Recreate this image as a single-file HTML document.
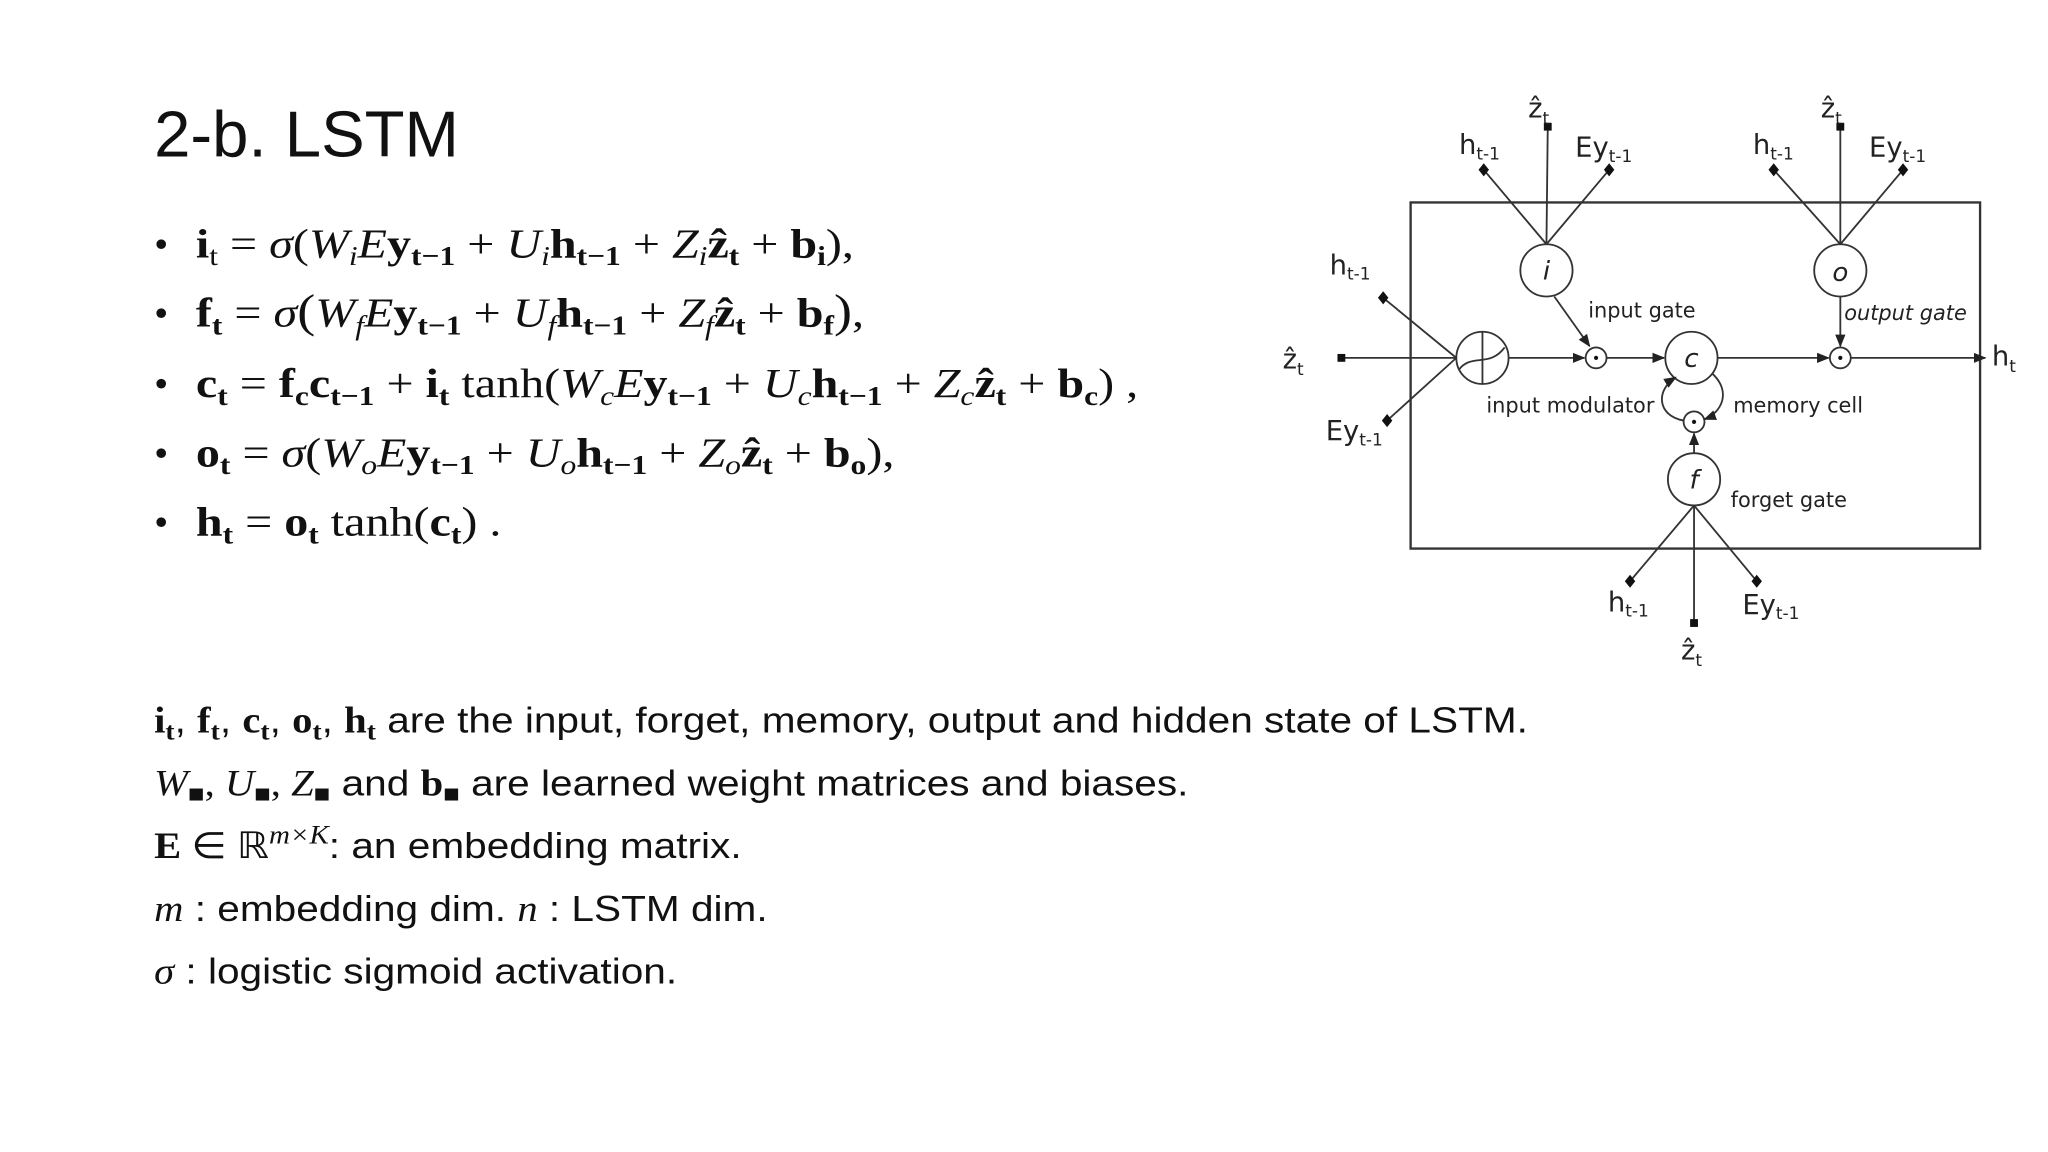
<!DOCTYPE html>
<html><head><meta charset="utf-8"><style>
html,body{margin:0;padding:0;background:#fff;}
svg{display:block}
.t{font-family:"Liberation Sans",sans-serif;fill:#111}
.m{font-family:"Liberation Serif",serif;fill:#111}
.d{font-family:"DejaVu Sans","Liberation Sans",sans-serif;fill:#222}
</style></head><body>
<svg width="2048" height="1152" viewBox="0 0 1568 882" xmlns="http://www.w3.org/2000/svg">
<defs>
<marker id="ar" viewBox="0 0 10 10" refX="9" refY="5" markerWidth="7" markerHeight="7" orient="auto"><path d="M0,1 L10,5 L0,9 z" fill="#222"/></marker>
</defs>
<rect width="1568" height="882" fill="#fff"/>
<text class="t" x="118" y="120" font-size="50">2-b. LSTM</text>

<g class="m" font-size="31">
<text x="118" y="197">•</text>
<text x="118" y="250">•</text>
<text x="118" y="304">•</text>
<text x="118" y="357">•</text>
<text x="118" y="410">•</text>
</g>
<g class="m" font-size="32" transform="translate(150,0) scale(1.15,1) translate(-150,0)">
<text x="150" y="197"><tspan font-weight="bold">i</tspan><tspan font-size="21" dy="6">t</tspan><tspan dy="-6"> = </tspan><tspan font-style="italic">σ</tspan>(<tspan font-style="italic">W</tspan><tspan font-style="italic" font-size="21" dy="6">i</tspan><tspan dy="-6" font-style="italic">E</tspan><tspan font-weight="bold">y</tspan><tspan font-weight="bold" font-size="21" dy="6">t−1</tspan><tspan dy="-6"> + </tspan><tspan font-style="italic">U</tspan><tspan font-style="italic" font-size="21" dy="6">i</tspan><tspan dy="-6" font-weight="bold">h</tspan><tspan font-weight="bold" font-size="21" dy="6">t−1</tspan><tspan dy="-6"> + </tspan><tspan font-style="italic">Z</tspan><tspan font-style="italic" font-size="21" dy="6">i</tspan><tspan dy="-6" font-weight="bold">ẑ</tspan><tspan font-weight="bold" font-size="21" dy="6">t</tspan><tspan dy="-6"> + </tspan><tspan font-weight="bold">b</tspan><tspan font-weight="bold" font-size="21" dy="6">i</tspan><tspan dy="-6">),</tspan></text>
<text x="150" y="250"><tspan font-weight="bold">f</tspan><tspan font-size="21" dy="6" font-weight="bold">t</tspan><tspan dy="-6"> = </tspan><tspan font-style="italic">σ</tspan><tspan font-size="36">(</tspan><tspan font-style="italic">W</tspan><tspan font-style="italic" font-size="21" dy="6">f</tspan><tspan dy="-6" font-style="italic">E</tspan><tspan font-weight="bold">y</tspan><tspan font-weight="bold" font-size="21" dy="6">t−1</tspan><tspan dy="-6"> + </tspan><tspan font-style="italic">U</tspan><tspan font-style="italic" font-size="21" dy="6">f</tspan><tspan dy="-6" font-weight="bold">h</tspan><tspan font-weight="bold" font-size="21" dy="6">t−1</tspan><tspan dy="-6"> + </tspan><tspan font-style="italic">Z</tspan><tspan font-style="italic" font-size="21" dy="6">f</tspan><tspan dy="-6" font-weight="bold">ẑ</tspan><tspan font-weight="bold" font-size="21" dy="6">t</tspan><tspan dy="-6"> + </tspan><tspan font-weight="bold">b</tspan><tspan font-weight="bold" font-size="21" dy="6">f</tspan><tspan dy="-6" font-size="36">)</tspan><tspan>,</tspan></text>
<text x="150" y="304"><tspan font-weight="bold">c</tspan><tspan font-size="21" dy="6" font-weight="bold">t</tspan><tspan dy="-6"> = </tspan><tspan font-weight="bold">f</tspan><tspan font-weight="bold" font-size="21" dy="6">c</tspan><tspan dy="-6" font-weight="bold">c</tspan><tspan font-weight="bold" font-size="21" dy="6">t−1</tspan><tspan dy="-6"> + </tspan><tspan font-weight="bold">i</tspan><tspan font-weight="bold" font-size="21" dy="6">t</tspan><tspan dy="-6"> tanh(</tspan><tspan font-style="italic">W</tspan><tspan font-style="italic" font-size="21" dy="6">c</tspan><tspan dy="-6" font-style="italic">E</tspan><tspan font-weight="bold">y</tspan><tspan font-weight="bold" font-size="21" dy="6">t−1</tspan><tspan dy="-6"> + </tspan><tspan font-style="italic">U</tspan><tspan font-style="italic" font-size="21" dy="6">c</tspan><tspan dy="-6" font-weight="bold">h</tspan><tspan font-weight="bold" font-size="21" dy="6">t−1</tspan><tspan dy="-6"> + </tspan><tspan font-style="italic">Z</tspan><tspan font-style="italic" font-size="21" dy="6">c</tspan><tspan dy="-6" font-weight="bold">ẑ</tspan><tspan font-weight="bold" font-size="21" dy="6">t</tspan><tspan dy="-6"> + </tspan><tspan font-weight="bold">b</tspan><tspan font-weight="bold" font-size="21" dy="6">c</tspan><tspan dy="-6">) ,</tspan></text>
<text x="150" y="357"><tspan font-weight="bold">o</tspan><tspan font-size="21" dy="6" font-weight="bold">t</tspan><tspan dy="-6"> = </tspan><tspan font-style="italic">σ</tspan>(<tspan font-style="italic">W</tspan><tspan font-style="italic" font-size="21" dy="6">o</tspan><tspan dy="-6" font-style="italic">E</tspan><tspan font-weight="bold">y</tspan><tspan font-weight="bold" font-size="21" dy="6">t−1</tspan><tspan dy="-6"> + </tspan><tspan font-style="italic">U</tspan><tspan font-style="italic" font-size="21" dy="6">o</tspan><tspan dy="-6" font-weight="bold">h</tspan><tspan font-weight="bold" font-size="21" dy="6">t−1</tspan><tspan dy="-6"> + </tspan><tspan font-style="italic">Z</tspan><tspan font-style="italic" font-size="21" dy="6">o</tspan><tspan dy="-6" font-weight="bold">ẑ</tspan><tspan font-weight="bold" font-size="21" dy="6">t</tspan><tspan dy="-6"> + </tspan><tspan font-weight="bold">b</tspan><tspan font-weight="bold" font-size="21" dy="6">o</tspan><tspan dy="-6">),</tspan></text>
<text x="150" y="410"><tspan font-weight="bold">h</tspan><tspan font-size="21" dy="6" font-weight="bold">t</tspan><tspan dy="-6"> = </tspan><tspan font-weight="bold">o</tspan><tspan font-weight="bold" font-size="21" dy="6">t</tspan><tspan dy="-6"> tanh(</tspan><tspan font-weight="bold">c</tspan><tspan font-weight="bold" font-size="21" dy="6">t</tspan><tspan dy="-6">) .</tspan></text>
</g>

<g font-size="28" transform="translate(118,0) scale(1.11,1) translate(-118,0)">
<text x="118" y="561"><tspan class="m" font-weight="bold">i</tspan><tspan class="m" font-weight="bold" font-size="19" dy="5">t</tspan><tspan class="t" dy="-5">, </tspan><tspan class="m" font-weight="bold">f</tspan><tspan class="m" font-weight="bold" font-size="19" dy="5">t</tspan><tspan class="t" dy="-5">, </tspan><tspan class="m" font-weight="bold">c</tspan><tspan class="m" font-weight="bold" font-size="19" dy="5">t</tspan><tspan class="t" dy="-5">, </tspan><tspan class="m" font-weight="bold">o</tspan><tspan class="m" font-weight="bold" font-size="19" dy="5">t</tspan><tspan class="t" dy="-5">, </tspan><tspan class="m" font-weight="bold">h</tspan><tspan class="m" font-weight="bold" font-size="19" dy="5">t</tspan><tspan class="t" dy="-5"> are the input, forget, memory, output and hidden state of LSTM.</tspan></text>
<text x="118" y="609"><tspan class="m" font-style="italic">W</tspan><tspan class="m" font-size="19" dy="5">■</tspan><tspan class="m" dy="-5">, </tspan><tspan class="m" font-style="italic">U</tspan><tspan class="m" font-size="19" dy="5">■</tspan><tspan class="m" dy="-5">, </tspan><tspan class="m" font-style="italic">Z</tspan><tspan class="m" font-size="19" dy="5">■</tspan><tspan class="t" dy="-5"> and </tspan><tspan class="m" font-weight="bold">b</tspan><tspan class="m" font-size="19" dy="5">■</tspan><tspan class="t" dy="-5"> are learned weight matrices and biases.</tspan></text>
<text x="118" y="657"><tspan class="m" font-weight="bold">E</tspan><tspan class="m"> ∈ ℝ</tspan><tspan class="m" font-style="italic" font-size="20" dy="-11">m×K</tspan><tspan class="t" dy="11">: an embedding matrix.</tspan></text>
<text x="118" y="705"><tspan class="m" font-style="italic">m</tspan><tspan class="t"> : embedding dim. </tspan><tspan class="m" font-style="italic">n</tspan><tspan class="t"> : LSTM dim.</tspan></text>
<text x="118" y="753"><tspan class="m" font-style="italic">σ</tspan><tspan class="t"> : logistic sigmoid activation.</tspan></text>
</g>

<!-- diagram -->
<g stroke="#333" stroke-width="1.4" fill="none">
<rect x="1080" y="155" width="436" height="265" stroke-width="1.8"/>
<line x1="1027" y1="274" x2="1115" y2="274"/>
<line x1="1155" y1="274" x2="1213" y2="274" marker-end="url(#ar)"/>
<line x1="1230" y1="274" x2="1274" y2="274" marker-end="url(#ar)"/>
<line x1="1315" y1="274" x2="1400" y2="274" marker-end="url(#ar)"/>
<line x1="1417" y1="274" x2="1520" y2="274" marker-end="url(#ar)"/>
<circle cx="1135" cy="274" r="20"/>
<line x1="1135" y1="254" x2="1135" y2="294"/>
<path d="M1117,283 C1127,270 1140,282 1152,266"/>
<circle cx="1222" cy="274" r="8"/>
<circle cx="1295" cy="274" r="20"/>
<circle cx="1409" cy="274" r="8"/>
<circle cx="1184" cy="207" r="20"/>
<circle cx="1409" cy="207" r="20"/>
<circle cx="1297" cy="367" r="20"/>
<circle cx="1297" cy="323" r="8"/>
<line x1="1136" y1="130" x2="1184" y2="187"/>
<line x1="1185" y1="97" x2="1184" y2="187"/>
<line x1="1232" y1="130" x2="1184" y2="187"/>
<line x1="1358" y1="130" x2="1409" y2="187"/>
<line x1="1409" y1="97" x2="1409" y2="187"/>
<line x1="1457" y1="130" x2="1409" y2="187"/>
<line x1="1059" y1="228" x2="1115" y2="274"/>
<line x1="1062" y1="322" x2="1115" y2="274"/>
<line x1="1248" y1="445" x2="1297" y2="387"/>
<line x1="1297" y1="477" x2="1297" y2="387"/>
<line x1="1345" y1="445" x2="1297" y2="387"/>
<line x1="1190" y1="227" x2="1217" y2="265" marker-end="url(#ar)"/>
<line x1="1409" y1="227" x2="1409" y2="265" marker-end="url(#ar)"/>
<line x1="1297" y1="347" x2="1297" y2="332" marker-end="url(#ar)"/>
<path d="M1289,322 C1268,318 1268,298 1283,289" marker-end="url(#ar)"/>
<path d="M1311,286 C1326,300 1318,316 1305,321" marker-end="url(#ar)"/>
</g>
<g fill="#111">
<rect x="1024" y="271" width="6" height="6"/>
<rect x="1182" y="94" width="6" height="6"/>
<rect x="1406" y="94" width="6" height="6"/>
<rect x="1294" y="474" width="6" height="6"/>
<path d="M1136,125 l4,5 -4,5 -4,-5z"/>
<path d="M1232,125 l4,5 -4,5 -4,-5z"/>
<path d="M1358,125 l4,5 -4,5 -4,-5z"/>
<path d="M1457,125 l4,5 -4,5 -4,-5z"/>
<path d="M1059,223 l4,5 -4,5 -4,-5z"/>
<path d="M1062,317 l4,5 -4,5 -4,-5z"/>
<path d="M1248,440 l4,5 -4,5 -4,-5z"/>
<path d="M1345,440 l4,5 -4,5 -4,-5z"/>
<circle cx="1222" cy="274" r="1.6"/><circle cx="1409" cy="274" r="1.6"/><circle cx="1297" cy="323" r="1.6"/>
</g>
<g class="d">
<text x="1178" y="214" font-size="20" font-style="italic" text-anchor="middle" dx="6">i</text>
<text x="1409" y="215" font-size="20" font-style="italic" text-anchor="middle">o</text>
<text x="1295" y="281" font-size="20" font-style="italic" text-anchor="middle">c</text>
<text x="1297" y="374" font-size="20" font-style="italic" text-anchor="middle">f</text>
<g font-size="16">
<text x="1216" y="243">input gate</text>
<text x="1412" y="245" font-style="italic">output gate</text>
<text x="1138" y="316">input modulator</text>
<text x="1327" y="316">memory cell</text>
<text x="1325" y="388">forget gate</text>
</g>
<g font-size="21">
<text x="1117" y="118">h<tspan font-size="13" dy="4">t-1</tspan></text>
<text x="1206" y="120">Ey<tspan font-size="13" dy="4">t-1</tspan></text>
<text x="1170" y="90">ẑ<tspan font-size="13" dy="5">t</tspan></text>
<text x="1342" y="118">h<tspan font-size="13" dy="4">t-1</tspan></text>
<text x="1431" y="120">Ey<tspan font-size="13" dy="4">t-1</tspan></text>
<text x="1394" y="90">ẑ<tspan font-size="13" dy="5">t</tspan></text>
<text x="1018" y="210">h<tspan font-size="13" dy="4">t-1</tspan></text>
<text x="1015" y="337">Ey<tspan font-size="13" dy="4">t-1</tspan></text>
<text x="982" y="282">ẑ<tspan font-size="13" dy="5">t</tspan></text>
<text x="1525" y="280">h<tspan font-size="13" dy="5">t</tspan></text>
<text x="1231" y="468">h<tspan font-size="13" dy="4">t-1</tspan></text>
<text x="1334" y="470">Ey<tspan font-size="13" dy="4">t-1</tspan></text>
<text x="1287" y="505">ẑ<tspan font-size="13" dy="5">t</tspan></text>
</g>
</g>
</svg>
</body></html>
